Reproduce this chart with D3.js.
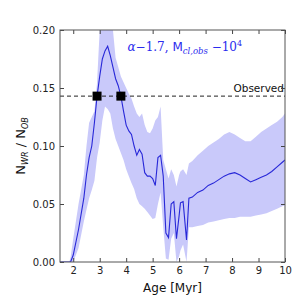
<!DOCTYPE html>
<html>
<head>
<meta charset="utf-8">
<script src="https://cdn.jsdelivr.net/npm/d3@7"></script>
<style>
  body { margin: 0; background: #fff; }
  svg { font-family: "DejaVu Sans", sans-serif; }
</style>
</head>
<body>
<svg id="chart" width="300" height="300"></svg>
<script>
// ages [Myr] and N_WR/N_OB ratio: median, lower and upper envelope
const ages = [1.5, 1.85, 1.9, 2.0, 2.2, 2.4, 2.5, 2.6, 2.7, 2.8, 2.9, 3.0, 3.1, 3.2, 3.3, 3.4, 3.5, 3.6, 3.7, 3.8,
  3.9, 4.0, 4.1, 4.2, 4.3, 4.4, 4.5, 4.6, 4.7, 4.8, 4.9, 5.0, 5.1, 5.2, 5.3, 5.4, 5.5, 5.6, 5.7, 5.8,
  5.9, 6.0, 6.05, 6.15, 6.28, 6.37, 6.5, 6.7, 6.9, 7.1, 7.3, 7.5, 7.7, 7.9, 8.1, 8.3, 8.5, 8.7, 8.9, 9.1,
  9.3, 9.5, 9.7, 9.9, 10.0];
const median = [0, 0, 0, 0.006, 0.028, 0.055, 0.075, 0.09, 0.1, 0.12, 0.143, 0.16, 0.175, 0.182, 0.186, 0.178, 0.168, 0.158, 0.152, 0.143,
  0.13, 0.118, 0.113, 0.11, 0.1, 0.092, 0.097, 0.093, 0.077, 0.074, 0.074, 0.072, 0.066, 0.09, 0.092, 0.074, 0.025, 0.021, 0.05, 0.052,
  0.02, 0.04, 0.051, 0.052, 0.019, 0.055, 0.056, 0.06, 0.062, 0.066, 0.068, 0.071, 0.074, 0.076, 0.077, 0.075, 0.072, 0.069, 0.071, 0.073,
  0.075, 0.078, 0.082, 0.086, 0.088];
const lower = [0, 0, 0, 0, 0.012, 0.035, 0.045, 0.055, 0.062, 0.07, 0.09, 0.103, 0.122, 0.134, 0.132, 0.128, 0.115, 0.106, 0.1, 0.094,
  0.088, 0.08, 0.074, 0.068, 0.063, 0.055, 0.05, 0.048, 0.046, 0.043, 0.04, 0.037, 0.038, 0.05, 0.06, 0.03, 0.003, 0.002, 0.02, 0.025,
  0, 0.005, 0.01, 0.015, 0, 0.03, 0.03, 0.031, 0.032, 0.034, 0.035, 0.036, 0.037, 0.038, 0.038, 0.039, 0.039, 0.039, 0.04, 0.041,
  0.042, 0.044, 0.046, 0.048, 0.049];
const upper = [0, 0, 0.004, 0.02, 0.05, 0.075, 0.1, 0.12, 0.125, 0.13, 0.155, 0.2, 0.2, 0.2, 0.2, 0.2, 0.2, 0.176, 0.168, 0.16,
  0.155, 0.15, 0.145, 0.141, 0.134, 0.128, 0.125, 0.128, 0.118, 0.112, 0.111, 0.115, 0.122, 0.125, 0.134, 0.088, 0.08, 0.072, 0.08, 0.075,
  0.065, 0.075, 0.078, 0.08, 0.075, 0.085, 0.087, 0.092, 0.096, 0.1, 0.103, 0.106, 0.11, 0.112, 0.11, 0.107, 0.104, 0.104, 0.108, 0.112,
  0.115, 0.118, 0.121, 0.125, 0.128];

const observed = 0.143;
const crossAges = [2.9, 3.8];
const xTicks = [2, 3, 4, 5, 6, 7, 8, 9, 10];
const yTicks = [0, 0.05, 0.1, 0.15, 0.2];

const margin = { top: 30, right: 15, bottom: 38, left: 60 };
const width = 300 - margin.left - margin.right;
const height = 300 - margin.top - margin.bottom;

const svg = d3.select('#chart');
const g = svg.append('g').attr('transform', `translate(${margin.left},${margin.top})`);

const x = d3.scaleLinear().domain([1.5, 10]).range([0, width]);
const y = d3.scaleLinear().domain([0, 0.2]).range([height, 0]);

g.append('clipPath').attr('id', 'clip')
  .append('rect').attr('width', width).attr('height', height);

const rows = ages.map((a, i) => ({ a, m: median[i], lo: lower[i], hi: upper[i] }));

g.append('path')
  .datum(rows)
  .attr('clip-path', 'url(#clip)')
  .attr('fill', '#c9c9fa')
  .attr('d', d3.area().x(d => x(d.a)).y0(d => y(d.lo)).y1(d => y(d.hi)));

g.append('path')
  .datum(rows)
  .attr('clip-path', 'url(#clip)')
  .attr('fill', 'none')
  .attr('stroke', '#2828d8')
  .attr('stroke-width', 1.1)
  .attr('d', d3.line().x(d => x(d.a)).y(d => y(d.m)));

// observed ratio
g.append('line')
  .attr('x1', 0).attr('x2', width)
  .attr('y1', y(observed)).attr('y2', y(observed))
  .attr('stroke', '#222').attr('stroke-width', 1)
  .attr('stroke-dasharray', '4,3');

g.selectAll('.cross').data(crossAges).enter().append('rect')
  .attr('x', d => x(d) - 4.5).attr('y', y(observed) - 4.5)
  .attr('width', 9).attr('height', 9)
  .attr('fill', '#000');

g.append('text')
  .attr('x', width - 1).attr('y', y(observed) - 4)
  .attr('text-anchor', 'end')
  .attr('font-size', 10.5).attr('fill', '#111')
  .text('Observed');

// axes, ticks inward on all sides
const tickStyle = sel => {
  sel.select('.domain').remove();
  sel.selectAll('.tick line').attr('stroke', '#444');
  sel.selectAll('.tick text').attr('fill', '#222').attr('font-size', 10)
    .attr('font-family', '"DejaVu Sans", sans-serif');
};

g.append('g').attr('transform', `translate(0,${height})`)
  .call(d3.axisBottom(x).tickValues(xTicks).tickSizeInner(-4).tickPadding(5).tickFormat(d3.format('d')))
  .call(tickStyle);
g.append('g')
  .call(d3.axisTop(x).tickValues(xTicks).tickSizeInner(-4).tickFormat(''))
  .call(tickStyle);
g.append('g')
  .call(d3.axisLeft(y).tickValues(yTicks).tickSizeInner(-4).tickPadding(5).tickFormat(d3.format('.2f')))
  .call(tickStyle);
g.append('g').attr('transform', `translate(${width},0)`)
  .call(d3.axisRight(y).tickValues(yTicks).tickSizeInner(-4).tickFormat(''))
  .call(tickStyle);

g.append('rect')
  .attr('width', width).attr('height', height)
  .attr('fill', 'none').attr('stroke', '#555').attr('stroke-width', 1);

// annotation
const note = g.append('text')
  .attr('x', x(4.05)).attr('y', 21)
  .attr('font-size', 12).attr('fill', '#2b2bee');
note.append('tspan').attr('font-style', 'italic').attr('font-family', '"DejaVu Serif", serif').text('α');
note.append('tspan').attr('font-family', '"DejaVu Serif", serif').text('−1.7, ');
note.append('tspan').text('M');
note.append('tspan').attr('font-size', 8.5).attr('dy', 3).attr('font-style', 'italic')
  .attr('font-family', '"DejaVu Serif", serif').text('cl,obs');
note.append('tspan').attr('dy', -3).attr('font-family', '"DejaVu Serif", serif').text(' −10');
note.append('tspan').attr('font-size', 8).attr('dy', -5).attr('font-family', '"DejaVu Serif", serif').text('4');

// axis labels
svg.append('text')
  .attr('x', margin.left + width / 2).attr('y', 292)
  .attr('text-anchor', 'middle').attr('font-size', 12).attr('fill', '#111')
  .text('Age [Myr]');

const yl = svg.append('text')
  .attr('transform', `translate(25,${margin.top + height / 2}) rotate(-90)`)
  .attr('text-anchor', 'middle').attr('font-size', 13).attr('fill', '#111');
yl.append('tspan').text('N');
yl.append('tspan').attr('font-size', 8).attr('dy', 3).attr('font-style', 'italic').text('WR');
yl.append('tspan').attr('dy', -3).text(' / N');
yl.append('tspan').attr('font-size', 8).attr('dy', 3).attr('font-style', 'italic').text('OB');
</script>
</body>
</html>
